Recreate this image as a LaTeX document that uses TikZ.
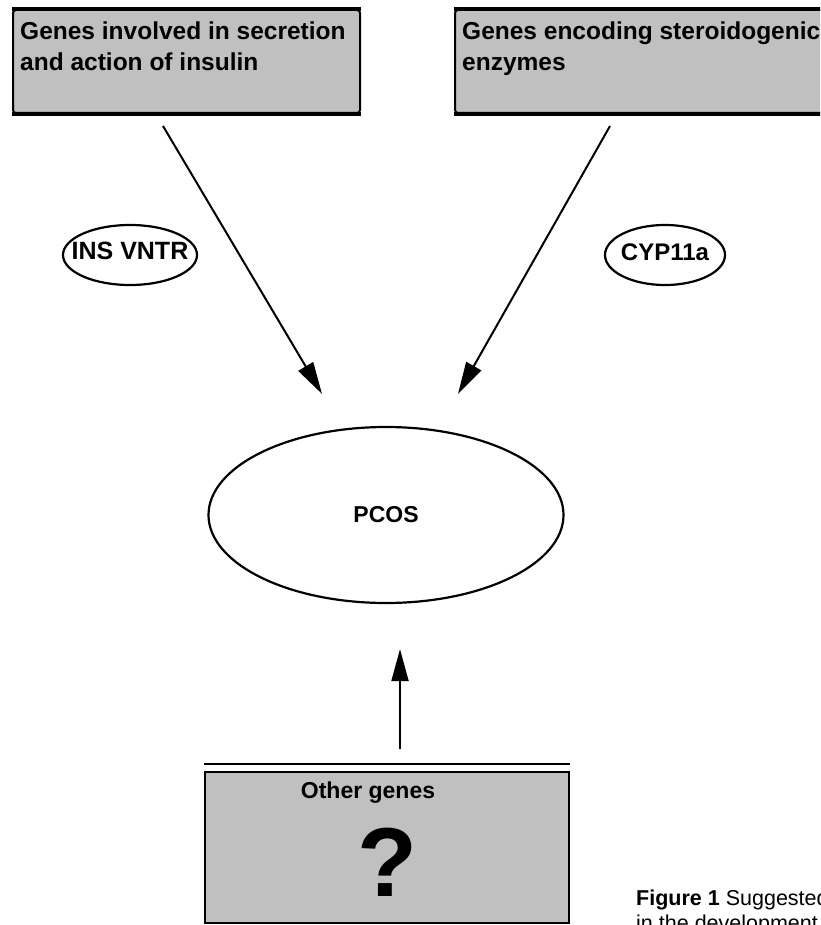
\documentclass[tikz,border=0pt]{standalone}
\usepackage{fontspec}
\setmainfont{Liberation Sans}
\usepackage{tikz}
\usetikzlibrary{positioning,shapes.geometric,arrows.meta}

\definecolor{boxgray}{RGB}{192,192,192}

\tikzset{
    genebox/.style={draw, rectangle, fill=boxgray, line width=2pt, inner sep=0pt},
    boxtext/.style={inner sep=0pt, align=left, font=\fontsize{24.5}{31}\selectfont\bfseries},
    markerlabel/.style={draw, ellipse, line width=2.2pt, inner sep=0pt, minimum width=#1, minimum height=60pt},
    markertext/.style={inner sep=0pt, font=\fontsize{25}{28}\selectfont\bfseries},
    link/.style={line width=2pt, -{Triangle[length=32pt,width=17pt]}}
}

\begin{document}
\begin{tikzpicture}[x=1pt, y=1pt]
    \clip (0,0) rectangle (820,-925);

    % gene groups
    \node (insBox) [genebox, rounded corners=3pt, minimum width=347pt, minimum height=103pt] at (186.5,-61.5) {};
    \node (steroidBox) [genebox, rounded corners=3pt, minimum width=420pt, minimum height=103pt] at (665,-61.5) {};
    \draw[line width=4pt] (insBox.north west) -- (insBox.north east);
    \draw[line width=4pt] (insBox.south west) -- (insBox.south east);
    \draw[line width=4pt] (steroidBox.north west) -- (steroidBox.north east);
    \draw[line width=4pt] (steroidBox.south west) -- (steroidBox.south east);
    \node (insText) [boxtext, anchor=north west] at (20,-22) {Genes involved in secretion\\and action of insulin};
    \node (steroidText) [boxtext, anchor=north west] at (462,-22) {Genes encoding steroidogenic\\enzymes};

    % markers
    \node (insMarker) [markerlabel=134pt] at (130,-255) {};
    \node (cypMarker) [markerlabel=120pt] at (665,-255) {};
    \node (insName) [markertext] at ([yshift=4pt]insMarker.center) {INS VNTR};
    \node (cypName) [markertext, font=\fontsize{24}{28}\selectfont\bfseries] at ([yshift=3pt]cypMarker.center) {CYP11a};

    \node (pcos) [draw, ellipse, line width=2.2pt, inner sep=0pt, minimum width=355pt, minimum height=176pt,
        font=\fontsize{23}{28}\selectfont\bfseries] at (386,-515) {PCOS};

    % unknown genes
    \node (otherBox) [genebox, line width=2.5pt, minimum width=364pt, minimum height=151pt] at (387,-847.5) {};
    \draw[line width=2.5pt] ([yshift=7pt]otherBox.north west) -- ([yshift=7pt]otherBox.north east);
    \node (otherText) [font=\fontsize{23}{28}\selectfont\bfseries] at (368,-793) {Other genes};
    \node (unknown) [font=\fontsize{98}{100}\selectfont\bfseries] at (387,-862) {?};

    \draw[link] ([xshift=-23.5pt,yshift=-12pt]insBox.south) -- ([xshift=-64pt,yshift=32pt]pcos.north);
    \draw[link] ([xshift=-55pt,yshift=-12pt]steroidBox.south) -- ([xshift=72pt,yshift=32pt]pcos.north);
    \draw[link] ([xshift=13pt,yshift=22pt]otherBox.north) -- ([xshift=14pt,yshift=-45pt]pcos.south);

    \node (caption) [anchor=base west, inner sep=0pt, align=left, font=\fontsize{21.5}{25}\selectfont] at (636,-930)
        {\textbf{Figure 1} Suggested\\in the development};
\end{tikzpicture}
\end{document}
